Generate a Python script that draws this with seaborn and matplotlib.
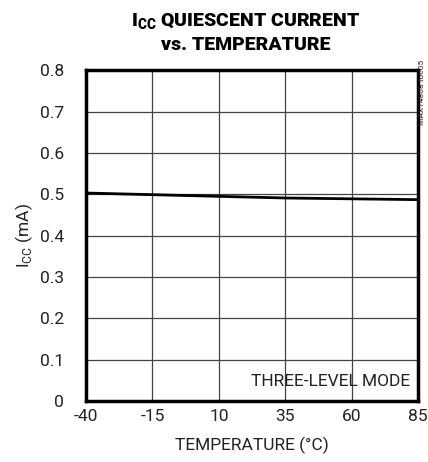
import matplotlib
matplotlib.use("Agg")
import matplotlib.pyplot as plt
import seaborn as sns
import pandas as pd

# values
temperature = [-40, -15, 10, 35, 60, 85]
icc_ma = [0.503, 0.499, 0.495, 0.491, 0.489, 0.487]
x_ticks = [-40, -15, 10, 35, 60, 85]
y_ticks = [0, 0.1, 0.2, 0.3, 0.4, 0.5, 0.6, 0.7, 0.8]

df = pd.DataFrame({"temp": temperature, "icc": icc_ma})

sns.set_style("white")
plt.rcParams['font.family'] = ['Liberation Sans Narrow', 'Roboto', 'DejaVu Sans']
plt.rcParams['mathtext.fontset'] = 'custom'
plt.rcParams['mathtext.rm'] = 'Roboto'

fig = plt.figure(figsize=(4.28, 4.62), dpi=100)
ax = fig.add_axes([0.201, 0.132, 0.776, 0.716])

sns.lineplot(data=df, x="temp", y="icc", color="black", linewidth=2, ax=ax)

ax.set_xlim(-40, 85)
ax.set_ylim(0, 0.8)
ax.set_xticks(x_ticks)
ax.set_yticks(y_ticks)
ax.set_xticklabels([str(t) for t in x_ticks])
ax.set_yticklabels(["0"] + [f"{v:.1f}" for v in y_ticks[1:]])
ax.grid(True, color="#444444", linewidth=0.9)
ax.tick_params(axis="x", length=0, labelsize=12.5, pad=6, colors="#222222")
ax.tick_params(axis="y", length=0, labelsize=12.5, pad=16, colors="#222222")

for s in ax.spines.values():
    s.set_color("black")
    s.set_linewidth(2.5)

ax.set_xlabel("TEMPERATURE (°C)", fontsize=12.5, color="#222222", labelpad=9)
ax.set_ylabel("I$_{\\mathregular{CC}}$ (mA)", fontsize=12.5, color="#222222", labelpad=3)

fig.text(0.575, 0.953, "I$_{\\mathregular{CC}}$ QUIESCENT CURRENT", ha="center", va="center",
         fontsize=14, fontweight="black", color="black")
fig.text(0.575, 0.903, "vs. TEMPERATURE", ha="center", va="center",
         fontsize=14, fontweight="black", color="black")

ax.text(0.975, 0.035, "THREE-LEVEL MODE", transform=ax.transAxes, ha="right", va="bottom",
        fontsize=12.5, color="#222222")
fig.text(0.987, 0.80, "MAX14808 toc05", rotation=90, ha="center", va="center",
         fontsize=6, color="#222222")

fig.savefig("out.png", dpi=100)
